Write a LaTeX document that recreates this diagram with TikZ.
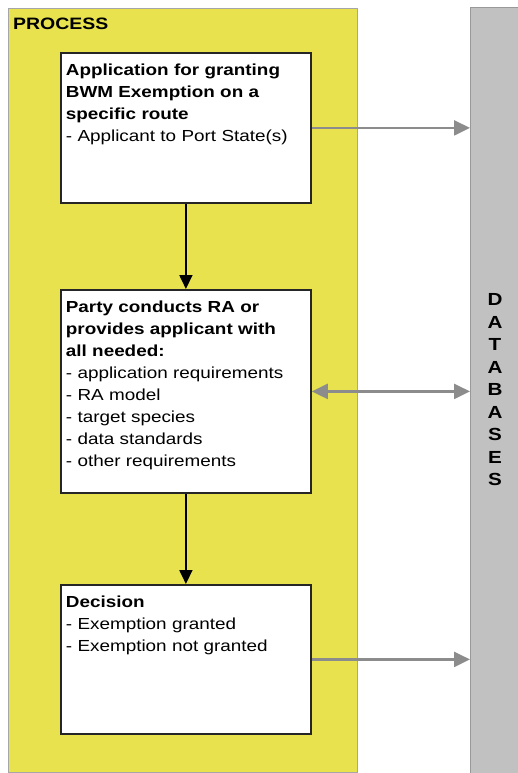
\documentclass[tikz,border=0pt]{standalone}
\usepackage{fontspec}
\setmainfont{Liberation Sans}[FakeStretch=1.18]
\usetikzlibrary{arrows.meta}

\definecolor{procyellow}{RGB}{231,226,78}
\definecolor{dbgray}{RGB}{193,193,193}
\definecolor{linkgray}{RGB}{140,140,140}

\tikzset{
  stepbox/.style={draw=black!85,line width=1.8pt,fill=white,anchor=north west,
    text width=240pt,align=left,inner xsep=5pt,inner ysep=10pt,text height=13pt,
    font=\fontsize{16}{22}\selectfont},
  flow/.style={line width=1.8pt,-{Triangle[length=14pt,width=13pt]}},
  link/.style={draw=linkgray,line width=2.4pt,-{Triangle[length=16pt,width=15pt]}},
}

\begin{document}
\begin{tikzpicture}[x=1pt,y=-1pt]
  \useasboundingbox (0,0) rectangle (518,773);

  % the two columns
  \filldraw[fill=procyellow,draw=black!35,line width=0.8pt] (8,8) rectangle (357,772);
  \node[anchor=north west,inner sep=0pt,font=\fontsize{16.5}{20}\selectfont\bfseries] (proc) at (13,18) {PROCESS};
  \filldraw[fill=dbgray,draw=black!40,line width=0.8pt] (470,7) rectangle (522,775);
  \node[align=center,inner sep=0pt,font=\fontsize{17.5}{22.5}\selectfont\bfseries] (db) at (495,390)
    {D\\A\\T\\A\\B\\A\\S\\E\\S};
  \coordinate (dbedge) at (470,390);

  % process steps
  \node[stepbox,text depth=117pt] (apply) at (60,52)
    {\textbf{Application for granting}\\\textbf{BWM Exemption on a}\\\textbf{specific route}\\- Applicant to Port State(s)};
  \node[stepbox,text depth=170pt] (party) at (60,289)
    {\textbf{Party conducts RA or}\\\textbf{provides applicant with}\\\textbf{all needed:}\\- application requirements\\- RA model\\- target species\\- data standards\\- other requirements};
  \node[stepbox,text depth=116pt] (decide) at (60,584)
    {\textbf{Decision}\\- Exemption granted\\- Exemption not granted};

  \draw[flow] (apply) -- (party);
  \draw[flow] (party) -- (decide);

  \draw[link] (apply.east) -- (apply.east -| dbedge);
  \draw[link,{Triangle[length=16pt,width=15pt]}-{Triangle[length=16pt,width=15pt]}] (party.east) -- (party.east -| dbedge);
  \draw[link] (decide.east) -- (decide.east -| dbedge);
\end{tikzpicture}
\end{document}
